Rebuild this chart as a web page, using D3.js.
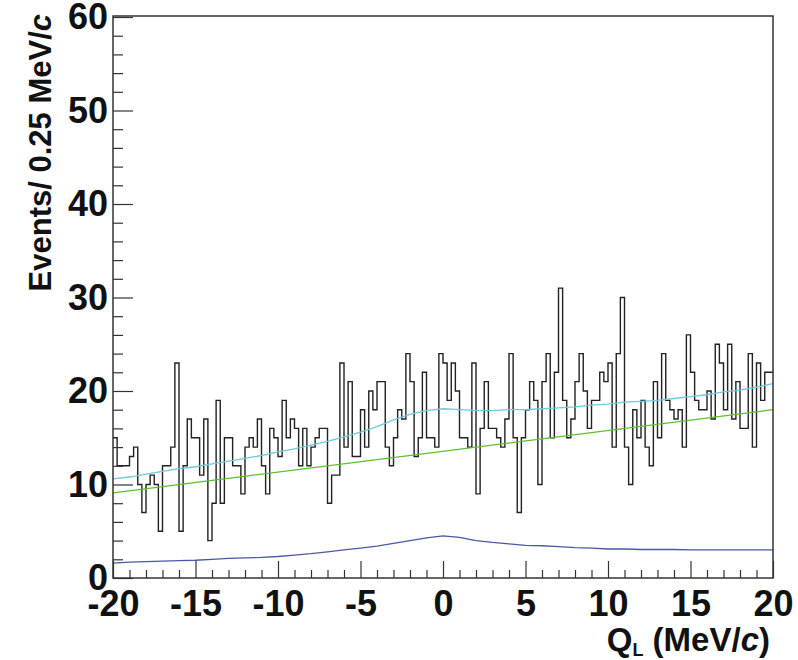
<!DOCTYPE html>
<html>
<head>
<meta charset="utf-8">
<script src="https://cdn.jsdelivr.net/npm/d3@7"></script>
<style>
  html, body { margin: 0; padding: 0; background: #fff; }
  svg { display: block; }
  .tick text { font-family: "Liberation Sans", Arial, sans-serif; font-weight: bold; }
</style>
</head>
<body>
<svg id="chart" width="798" height="660"></svg>
<script>
// Events per 0.25 MeV/c bin, Q_L from -20 to 20 MeV/c (160 bins)
const binEdgesLow = -20;
const binWidth = 0.25;
const counts = [
  15,12,12,12,13,14,10,7,10,11,10,5,12,12,14,23,5,12,17,15,
  15,11,17,4,8,19,8,15,15,12,12,9,14,15,14,17,12,9,16,15,
  13,19,15,17,16,12,16,12,14,15,16,16,8,11,11,23,14,21,13,13,
  18,14,20,18,21,21,14,12,15,18,17,24,21,13,15,22,15,15,14,24,
  23,19,23,20,15,15,14,23,9,16,21,16,16,15,14,17,24,15,7,15,
  18,21,19,10,21,24,15,22,31,19,15,17,21,24,20,16,19,19,22,21,
  23,14,24,30,14,10,18,15,19,14,12,21,15,24,19,18,17,18,14,26,
  22,19,18,18,20,17,25,23,18,25,17,21,16,16,24,14,23,19,22,22
];

// Fit components sampled at integer Q_L values
const fitX = [-20,-19,-18,-17,-16,-15,-14,-13,-12,-11,-10,-9,-8,-7,-6,-5,-4,-3,-2,-1,
               0,1,2,3,4,5,6,7,8,9,10,11,12,13,14,15,16,17,18,19,20];
const peakComponent = [1.6,1.7,1.75,1.8,1.85,1.9,2.0,2.1,2.15,2.2,2.3,2.45,2.6,2.8,3.0,3.2,3.4,3.7,4.0,4.3,
                       4.5,4.35,4.0,3.8,3.65,3.5,3.45,3.35,3.25,3.2,3.1,3.1,3.05,3.05,3.05,3.0,3.0,3.0,3.0,3.0,3.0];
const totalFit = [10.6,10.8,11.1,11.4,11.7,11.9,12.2,12.5,12.8,13.1,13.5,13.8,14.2,14.6,15.1,15.6,16.2,16.9,17.5,17.9,
                  18.1,18.0,17.9,17.9,18.0,18.0,18.1,18.2,18.3,18.5,18.6,18.8,18.9,19.0,19.2,19.4,19.6,19.9,20.1,20.4,20.8];
// Linear background: value at each end of the range
const bgX = [-20, 20];
const bgY = [9.1, 18.0];

const xTicks = [-20,-15,-10,-5,0,5,10,15,20];
const yTicks = [0,10,20,30,40,50,60];

const svg = d3.select("#chart");
const plotLeft = 113, plotRight = 773, plotTop = 17, plotBottom = 578;

const x = d3.scaleLinear().domain([-20, 20]).range([plotLeft, plotRight]);
const y = d3.scaleLinear().domain([0, 60]).range([plotBottom, plotTop]);

// Plain ASCII hyphen for negative tick labels
const fmt = d => String(d);

// Histogram outline (step after each bin edge)
const histPts = counts.map((c, i) => [binEdgesLow + i * binWidth, c]);
histPts.push([binEdgesLow + counts.length * binWidth, counts[counts.length - 1]]);
const stepLine = d3.line().x(d => x(d[0])).y(d => y(d[1])).curve(d3.curveStepAfter);

svg.append("path")
  .attr("d", stepLine(histPts))
  .attr("fill", "none")
  .attr("stroke", "#222")
  .attr("stroke-width", 1.4);

const fitLine = d3.line().x(d => x(d[0])).y(d => y(d[1]));

svg.append("path")
  .attr("d", fitLine(bgX.map((v, i) => [v, bgY[i]])))
  .attr("fill", "none").attr("stroke", "#5cbf2f").attr("stroke-width", 1.3);

svg.append("path")
  .attr("d", fitLine(fitX.map((v, i) => [v, totalFit[i]])))
  .attr("fill", "none").attr("stroke", "#6ccbd8").attr("stroke-width", 1.3);

svg.append("path")
  .attr("d", fitLine(fitX.map((v, i) => [v, peakComponent[i]])))
  .attr("fill", "none").attr("stroke", "#4a58a8").attr("stroke-width", 1.3);

// Frame
svg.append("rect")
  .attr("x", plotLeft).attr("y", plotTop - 1)
  .attr("width", plotRight - plotLeft).attr("height", plotBottom - plotTop + 1)
  .attr("fill", "none").attr("stroke", "#333").attr("stroke-width", 1.5);

// Y axis: major ticks with labels, minor ticks every 2
const yMinor = d3.range(0, 61, 2).filter(v => v % 10 !== 0);
svg.append("g").attr("transform", `translate(${plotLeft},0)`)
  .call(d3.axisLeft(y).tickValues(yMinor).tickSize(-10).tickFormat(""))
  .call(g => g.select(".domain").remove())
  .call(g => g.selectAll("line").attr("stroke", "#333").attr("stroke-width", 1.2));

svg.append("g").attr("transform", `translate(${plotLeft},0)`)
  .call(d3.axisLeft(y).tickValues(yTicks).tickSize(-20).tickPadding(5).tickFormat(fmt))
  .call(g => g.select(".domain").remove())
  .call(g => g.selectAll("line").attr("stroke", "#333").attr("stroke-width", 1.2))
  .call(g => g.selectAll("text").attr("font-size", 36).attr("fill", "#111"));

// X axis: major ticks every 5, minor every 1
const xMinor = d3.range(-20, 21, 1).filter(v => v % 5 !== 0);
svg.append("g").attr("transform", `translate(0,${plotBottom})`)
  .call(d3.axisBottom(x).tickValues(xMinor).tickSize(-8).tickFormat(""))
  .call(g => g.select(".domain").remove())
  .call(g => g.selectAll("line").attr("stroke", "#333").attr("stroke-width", 1.2));

svg.append("g").attr("transform", `translate(0,${plotBottom})`)
  .call(d3.axisBottom(x).tickValues(xTicks).tickSize(-17).tickPadding(12).tickFormat(fmt))
  .call(g => g.select(".domain").remove())
  .call(g => g.selectAll("line").attr("stroke", "#333").attr("stroke-width", 1.2))
  .call(g => g.selectAll("text").attr("font-size", 36).attr("fill", "#111"));

// Axis titles
const xt = svg.append("text")
  .attr("x", 770).attr("y", 651)
  .attr("text-anchor", "end")
  .attr("font-family", "Liberation Sans, Arial, sans-serif")
  .attr("font-weight", "bold").attr("font-size", 33).attr("fill", "#111");
xt.append("tspan").text("Q");
xt.append("tspan").attr("font-size", 18).attr("dy", 5).text("L");
xt.append("tspan").attr("dy", -5).text(" (MeV/");
xt.append("tspan").attr("font-style", "italic").text("c");
xt.append("tspan").text(")");

const yt = svg.append("text")
  .attr("transform", "translate(51,14) rotate(-90)")
  .attr("text-anchor", "end")
  .attr("font-family", "Liberation Sans, Arial, sans-serif")
  .attr("font-weight", "bold").attr("font-size", 31).attr("fill", "#111");
yt.append("tspan").text("Events/ 0.25 MeV/");
yt.append("tspan").attr("font-style", "italic").text("c");
</script>
</body>
</html>
